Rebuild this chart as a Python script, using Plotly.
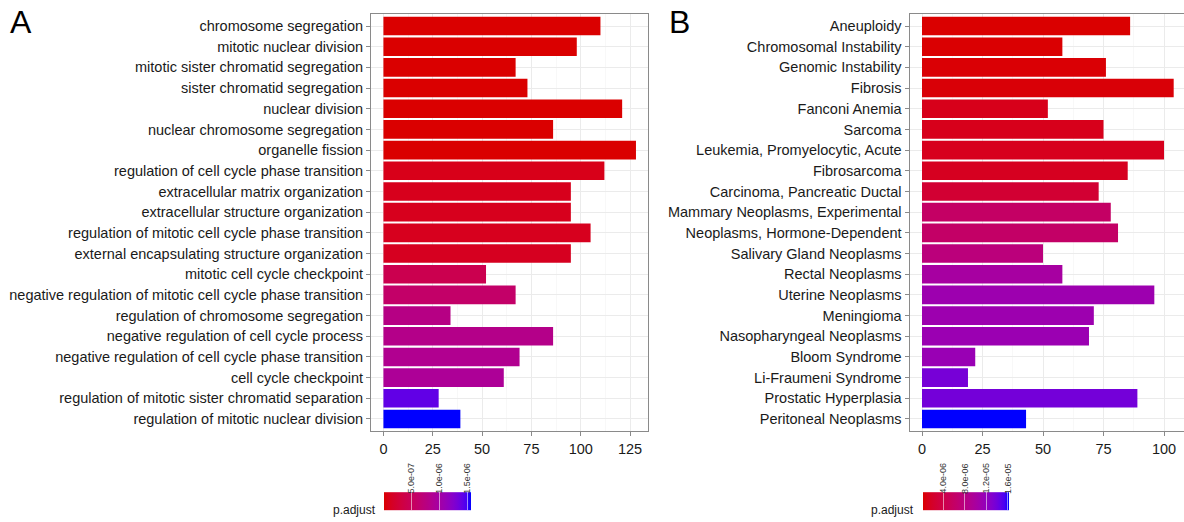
import plotly.graph_objects as go

# ---------------- data ----------------
A_terms = [
    "chromosome segregation",
    "mitotic nuclear division",
    "mitotic sister chromatid segregation",
    "sister chromatid segregation",
    "nuclear division",
    "nuclear chromosome segregation",
    "organelle fission",
    "regulation of cell cycle phase transition",
    "extracellular matrix organization",
    "extracellular structure organization",
    "regulation of mitotic cell cycle phase transition",
    "external encapsulating structure organization",
    "mitotic cell cycle checkpoint",
    "negative regulation of mitotic cell cycle phase transition",
    "regulation of chromosome segregation",
    "negative regulation of cell cycle process",
    "negative regulation of cell cycle phase transition",
    "cell cycle checkpoint",
    "regulation of mitotic sister chromatid separation",
    "regulation of mitotic nuclear division",
]
A_counts = [110, 98, 67, 73, 121, 86, 128, 112, 95, 95, 105, 95, 52, 67, 34, 86, 69, 61, 28, 39]
A_padj = [2.1e-12, 8.5e-12, 1.9e-11, 2.4e-11, 3.1e-11, 3.6e-11, 4.2e-11,
          9.0e-08, 1.05e-07, 1.1e-07, 1.15e-07, 1.25e-07,
          4.2e-07, 5.9e-07, 7.8e-07, 8.1e-07, 8.55e-07, 9.0e-07,
          1.40e-06, 1.555e-06]

B_terms = [
    "Aneuploidy",
    "Chromosomal Instability",
    "Genomic Instability",
    "Fibrosis",
    "Fanconi Anemia",
    "Sarcoma",
    "Leukemia, Promyelocytic, Acute",
    "Fibrosarcoma",
    "Carcinoma, Pancreatic Ductal",
    "Mammary Neoplasms, Experimental",
    "Neoplasms, Hormone-Dependent",
    "Salivary Gland Neoplasms",
    "Rectal Neoplasms",
    "Uterine Neoplasms",
    "Meningioma",
    "Nasopharyngeal Neoplasms",
    "Bloom Syndrome",
    "Li-Fraumeni Syndrome",
    "Prostatic Hyperplasia",
    "Peritoneal Neoplasms",
]
B_counts = [86, 58, 76, 104, 52, 75, 100, 85, 73, 78, 81, 50, 58, 96, 71, 69, 22, 19, 89, 43]
B_padj = [1.50e-07, 2.3e-07, 3.1e-07, 3.9e-07, 1.11e-06, 1.19e-06, 1.27e-06, 1.43e-06,
          2.56e-06, 5.93e-06, 6.09e-06, 7.53e-06, 1.010e-05, 1.106e-05, 1.107e-05,
          1.122e-05, 1.139e-05, 1.363e-05, 1.379e-05, 1.62e-05]

A_xticks = [0, 25, 50, 75, 100, 125]
B_xticks = [0, 25, 50, 75, 100]
A_cb_vals = [5e-7, 1e-6, 1.5e-6]
A_cb_text = ["5.0e-07", "1.0e-06", "1.5e-06"]
B_cb_vals = [4e-6, 8e-6, 1.2e-5, 1.6e-5]
B_cb_text = ["4.0e-06", "8.0e-06", "1.2e-05", "1.6e-05"]

# ---------------- colour scale (Lab interpolation, like ggplot) ----------------
def _lin(c):
    c = c / 255.0
    return c / 12.92 if c <= 0.04045 else ((c + 0.055) / 1.055) ** 2.4

def _gam(c):
    c = max(0.0, min(1.0, c))
    v = 12.92 * c if c <= 0.0031308 else 1.055 * c ** (1 / 2.4) - 0.055
    return int(round(v * 255))

WP = (0.95047, 1.0, 1.08883)

def rgb2lab(rgb):
    r, g, b = [_lin(v) for v in rgb]
    X = 0.4124 * r + 0.3576 * g + 0.1805 * b
    Y = 0.2126 * r + 0.7152 * g + 0.0722 * b
    Z = 0.0193 * r + 0.1192 * g + 0.9505 * b
    def f(t):
        return t ** (1 / 3) if t > 0.008856 else 7.787 * t + 16 / 116
    fx, fy, fz = f(X / WP[0]), f(Y / WP[1]), f(Z / WP[2])
    return (116 * fy - 16, 500 * (fx - fy), 200 * (fy - fz))

def lab2rgb(lab):
    L, a, bb = lab
    fy = (L + 16) / 116
    fx = fy + a / 500
    fz = fy - bb / 200
    def fi(t):
        return t ** 3 if t ** 3 > 0.008856 else (t - 16 / 116) / 7.787
    X, Y, Z = fi(fx) * WP[0], fi(fy) * WP[1], fi(fz) * WP[2]
    r = 3.2406 * X - 1.5372 * Y - 0.4986 * Z
    g = -0.9689 * X + 1.8758 * Y + 0.0415 * Z
    b = 0.0557 * X - 0.2040 * Y + 1.0570 * Z
    return "rgb(%d,%d,%d)" % (_gam(r), _gam(g), _gam(b))

low = rgb2lab((218, 0, 0))
high = rgb2lab((0, 0, 255))
n = 20
cscale = []
for i in range(n + 1):
    t = i / n
    lab = tuple(low[k] + (high[k] - low[k]) * t for k in range(3))
    cscale.append([t, lab2rgb(lab)])

# ---------------- figure ----------------
W, H = 1184, 522

def px(x):
    return x / W

def py(y):
    return (H - y) / H

ydom = [py(431.4), py(13.6)]
FONT = "Liberation Sans, Arial, sans-serif"

fig = go.Figure()
fig.add_trace(go.Bar(x=A_counts, y=A_terms, orientation="h", width=0.9,
                     marker=dict(color=A_padj, coloraxis="coloraxis", line=dict(width=0)),
                     xaxis="x", yaxis="y", showlegend=False, hoverinfo="skip"))
fig.add_trace(go.Bar(x=B_counts, y=B_terms, orientation="h", width=0.9,
                     marker=dict(color=B_padj, coloraxis="coloraxis2", line=dict(width=0)),
                     xaxis="x2", yaxis="y2", showlegend=False, hoverinfo="skip"))

tickfont = dict(family=FONT, size=14.5, color="#1a1a1a")
common_x = dict(showgrid=True, gridcolor="#EBEBEB", gridwidth=1, zeroline=False,
                ticks="outside", ticklen=4, tickcolor="#8a8a8a", tickwidth=1,
                showline=True, linecolor="#8a8a8a", linewidth=1, mirror=True,
                tickfont=tickfont, fixedrange=True,
                minor=dict(tick0=0, dtick=12.5, showgrid=True, gridcolor="#F3F3F3", gridwidth=0.6))
common_y = dict(type="category", showgrid=True, gridcolor="#EBEBEB", gridwidth=1,
                ticks="outside", ticklen=4, tickcolor="#8a8a8a", tickwidth=1,
                showline=True, linecolor="#8a8a8a", linewidth=1, mirror=True,
                tickfont=tickfont, range=[19.6, -0.6], categoryorder="array", fixedrange=True)

# colour bar geometry (pixels) and label annotations positioned from tick values
CB_Y = 509.5
CB_T = 17.6
cb_A = (383.3, 470.7)
cb_B = (922.7, 1009.0)

def cb_labels(vals, texts, vmin, vmax, x0, x1):
    out = []
    for v, s in zip(vals, texts):
        xp = x0 + (v - vmin) / (vmax - vmin) * (x1 - x0)
        out.append(dict(text=s, x=px(xp), y=py(CB_Y - CB_T / 2 - 5), xref="paper", yref="paper",
                        showarrow=False, textangle=-90, xanchor="center", yanchor="bottom",
                        font=dict(family=FONT, size=9, color="#333333")))
    return out

def colorbar(vals, x0, x1):
    return dict(orientation="h", x=px((x0 + x1) / 2), xanchor="center",
                y=py(CB_Y), yanchor="middle", len=x1 - x0, lenmode="pixels",
                thickness=CB_T, xpad=0, ypad=0, outlinewidth=0,
                tickvals=vals, showticklabels=False, ticks="inside", ticklen=CB_T,
                tickcolor="rgba(255,255,255,0.55)")

annotations = [
    dict(text="A", x=px(21), y=py(22), xref="paper", yref="paper", showarrow=False,
         xanchor="center", yanchor="middle", font=dict(family=FONT, size=32, color="black")),
    dict(text="B", x=px(679), y=py(22), xref="paper", yref="paper", showarrow=False,
         xanchor="center", yanchor="middle", font=dict(family=FONT, size=32, color="black")),
    dict(text="p.adjust", x=px(378), y=py(510), xref="paper", yref="paper", showarrow=False,
         xanchor="right", yanchor="middle", font=dict(family=FONT, size=12, color="#1a1a1a")),
    dict(text="p.adjust", x=px(916), y=py(510), xref="paper", yref="paper", showarrow=False,
         xanchor="right", yanchor="middle", font=dict(family=FONT, size=12, color="#1a1a1a")),
]
annotations += cb_labels(A_cb_vals, A_cb_text, min(A_padj), max(A_padj), *cb_A)
annotations += cb_labels(B_cb_vals, B_cb_text, min(B_padj), max(B_padj), *cb_B)

fig.update_layout(
    width=W, height=H,
    margin=dict(l=0, r=0, t=0, b=0, autoexpand=False),
    paper_bgcolor="white", plot_bgcolor="white",
    font=dict(family=FONT),
    bargap=0.1,
    hovermode=False,
    xaxis=dict(domain=[px(371), px(648)], range=[-6.3, 134.1], tickvals=A_xticks,
               anchor="y", **common_x),
    yaxis=dict(domain=ydom, anchor="x", categoryarray=A_terms, **common_y),
    xaxis2=dict(domain=[px(909.5), 1.0], range=[-5.165, 108.26], tickvals=B_xticks,
                anchor="y2", **common_x),
    yaxis2=dict(domain=ydom, anchor="x2", categoryarray=B_terms, **common_y),
    coloraxis=dict(colorscale=cscale, cmin=min(A_padj), cmax=max(A_padj),
                   colorbar=colorbar(A_cb_vals, *cb_A)),
    coloraxis2=dict(colorscale=cscale, cmin=min(B_padj), cmax=max(B_padj),
                    colorbar=colorbar(B_cb_vals, *cb_B)),
    annotations=annotations,
)

fig.write_html("out.html",
               config={"displayModeBar": False, "staticPlot": True},
               post_script="document.body.style.margin='0px';document.body.style.overflow='hidden';")
